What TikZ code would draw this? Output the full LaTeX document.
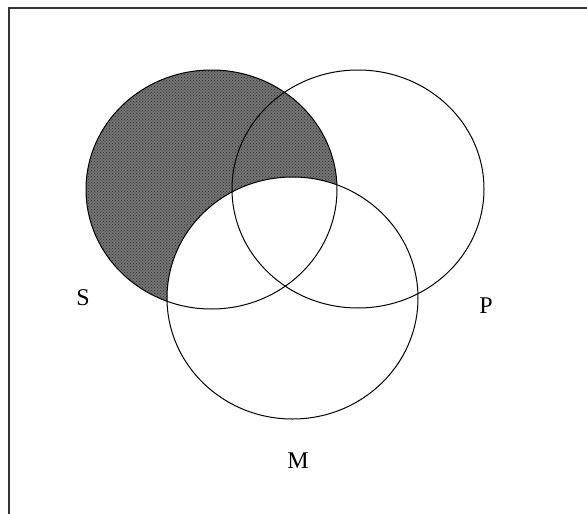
\documentclass[tikz,border=0pt]{standalone}
\usepackage{fontspec}
\setmainfont{Liberation Serif}
\usetikzlibrary{patterns}
\begin{document}
\begin{tikzpicture}[x=1pt,y=-1pt,
  set/.style={draw=black,line width=1pt},
  lbl/.style={font=\fontsize{24}{24}\selectfont,inner sep=0pt},
  frame/.style={draw=black!80,line width=2pt}]
\useasboundingbox (0,0) rectangle (587,514);
% shaded: S minus M
\begin{scope}[even odd rule]
  \clip (292.5,298) ellipse [x radius=125.5,y radius=121] (0,0) rectangle (587,514);
  \fill[black!55] (211.5,189.5) ellipse [x radius=125.5,y radius=119.5];
  \fill[pattern=crosshatch dots,pattern color=black!80] (211.5,189.5) ellipse [x radius=125.5,y radius=119.5];
\end{scope}
\draw[set] (211.5,189.5) ellipse [x radius=125.5,y radius=119.5];
\draw[set] (358,189) ellipse [x radius=126,y radius=119];
\draw[set] (292.5,298) ellipse [x radius=125.5,y radius=121];
\node[lbl] (S) at (83,298) {S};
\node[lbl] (P) at (486,306) {P};
\node[lbl] (M) at (298,461) {M};
\coordinate (tl) at (9,8);
\coordinate (tr) at (587,8);
\coordinate (bl) at (9,514);
\draw[frame] (tr) -- (tl) -- (bl);
\end{tikzpicture}
\end{document}
